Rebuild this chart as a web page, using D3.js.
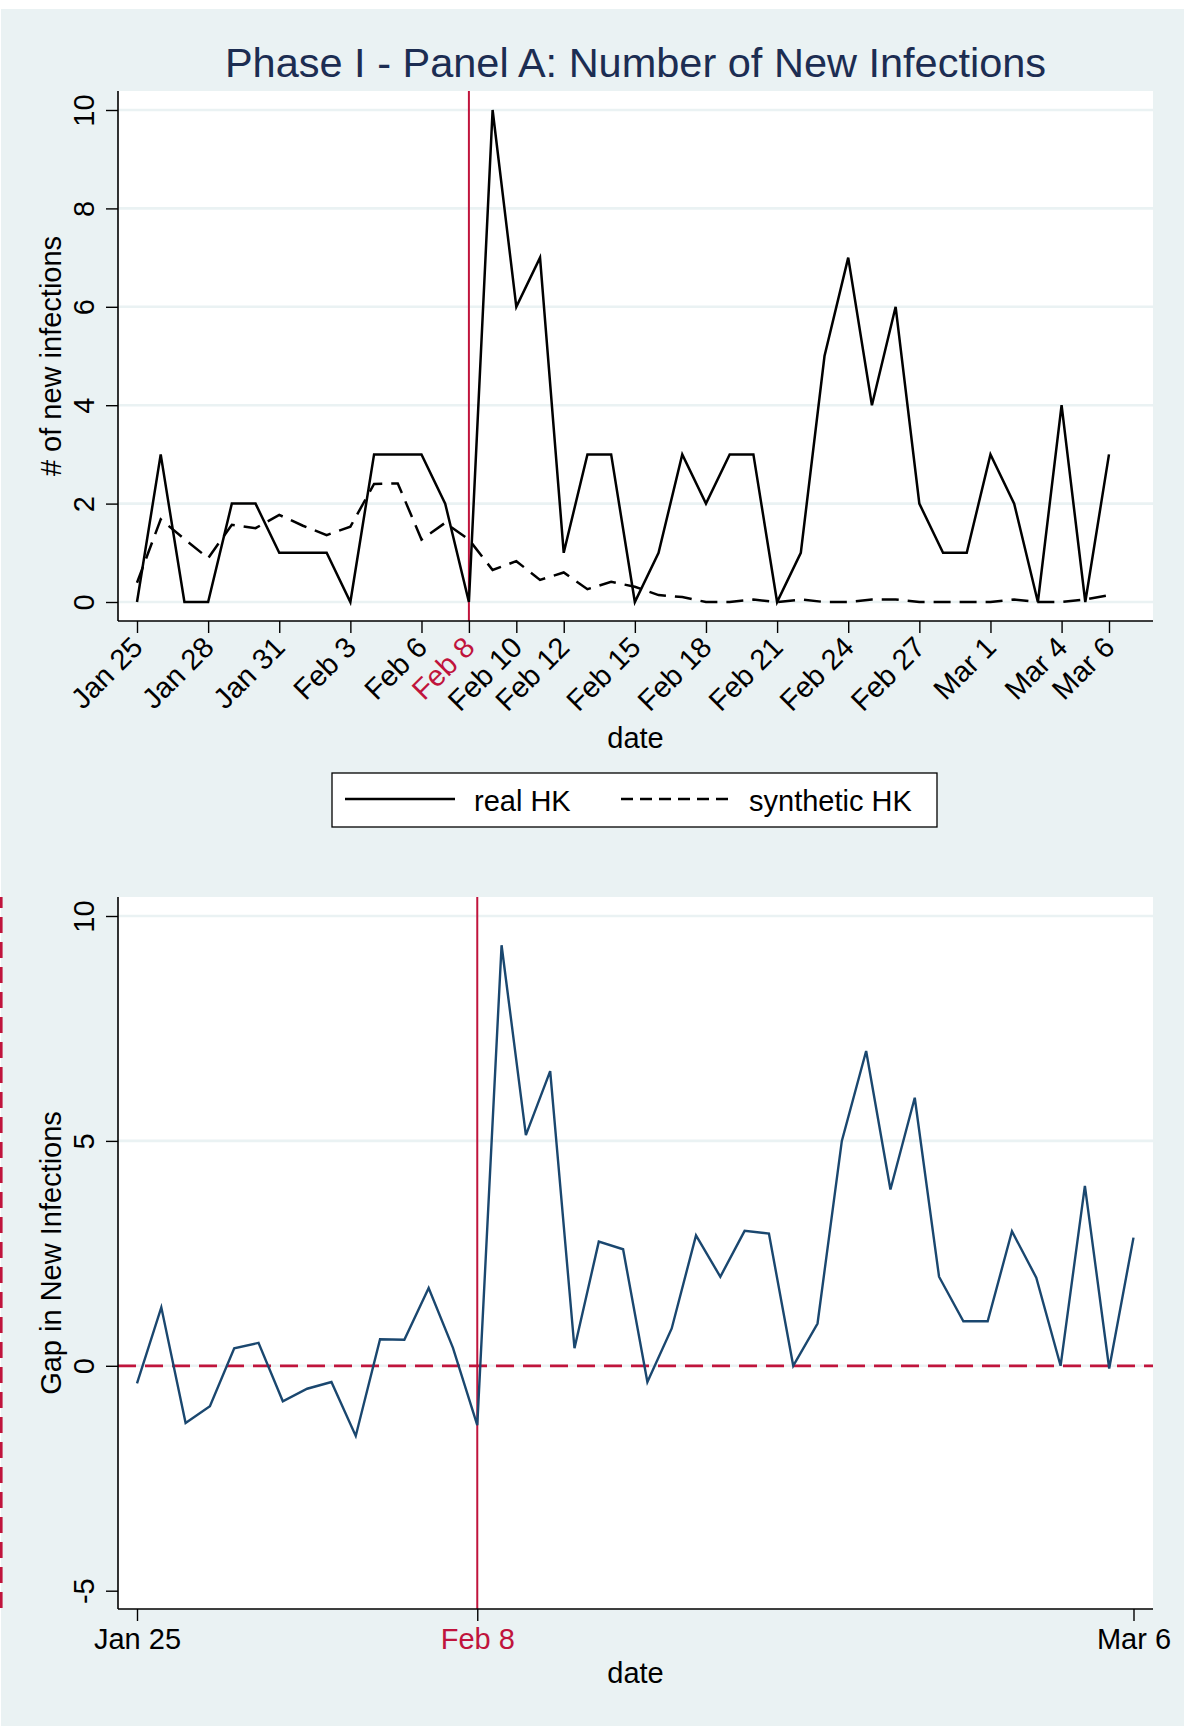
<!DOCTYPE html>
<html>
<head>
<meta charset="utf-8">
<script src="https://cdn.jsdelivr.net/npm/d3@7"></script>
<style>
  html, body { margin: 0; padding: 0; background: #fff; }
  svg { display: block; }
  text { font-family: "Liberation Sans", Arial, Helvetica, sans-serif; }
</style>
</head>
<body>
<svg id="chart" width="1184" height="1726"></svg>
<script>
// daily observations, Jan 25 - Mar 6 2020
var dates = [
  "2020-01-25", "2020-01-26", "2020-01-27", "2020-01-28", "2020-01-29", "2020-01-30", "2020-01-31",
  "2020-02-01", "2020-02-02", "2020-02-03", "2020-02-04", "2020-02-05", "2020-02-06", "2020-02-07",
  "2020-02-08", "2020-02-09", "2020-02-10", "2020-02-11", "2020-02-12", "2020-02-13", "2020-02-14",
  "2020-02-15", "2020-02-16", "2020-02-17", "2020-02-18", "2020-02-19", "2020-02-20", "2020-02-21",
  "2020-02-22", "2020-02-23", "2020-02-24", "2020-02-25", "2020-02-26", "2020-02-27", "2020-02-28",
  "2020-02-29", "2020-03-01", "2020-03-02", "2020-03-03", "2020-03-04", "2020-03-05", "2020-03-06"
];

var realHK = [
  0, 3, 0, 0, 2, 2, 1,
  1, 1, 0, 3, 3, 3, 2,
  0, 10, 6, 7, 1, 3, 3,
  0, 1, 3, 2, 3, 3, 0,
  1, 5, 7, 4, 6, 2, 1,
  1, 3, 2, 0, 4, 0, 3
];

var syntheticHK = [
  0.39, 1.68, 1.28, 0.89, 1.57, 1.5, 1.77,
  1.55, 1.36, 1.53, 2.4, 2.41, 1.27, 1.61,
  1.27, 0.65, 0.83, 0.45, 0.6, 0.26, 0.41,
  0.31, 0.14, 0.1, 0, 0, 0.05, 0,
  0.05, 0, 0, 0.05, 0.05, 0, 0,
  0, 0, 0.05, 0, 0, 0.05, 0.14
];

var gap = [
  -0.39, 1.3, -1.27, -0.9, 0.39, 0.51, -0.79,
  -0.51, -0.36, -1.56, 0.59, 0.58, 1.73, 0.4,
  -1.32, 9.35, 5.13, 6.55, 0.39, 2.76, 2.59,
  -0.36, 0.83, 2.9, 1.98, 3.0, 2.94, 0,
  0.94, 5.0, 7.0, 3.92, 5.96, 1.98, 0.99,
  0.99, 2.99, 1.96, 0, 4.0, -0.06, 2.85
];

var topTicks = [
  "2020-01-25", "2020-01-28", "2020-01-31", "2020-02-03", "2020-02-06", "2020-02-08",
  "2020-02-10", "2020-02-12", "2020-02-15", "2020-02-18", "2020-02-21", "2020-02-24",
  "2020-02-27", "2020-03-01", "2020-03-04", "2020-03-06"
];
var bottomTicks = ["2020-01-25", "2020-02-08", "2020-03-06"];
var topYTicks = [0, 2, 4, 6, 8, 10];
var bottomYTicks = [-5, 0, 5, 10];
var bottomGrid = [0, 5, 10];
var treatDate = "2020-02-08";
var seriesNames = ["real HK", "synthetic HK"];

var bg = "#eaf2f3",
    red = "#c0143c",
    navy = "#1a476f",
    titleColor = "#1c2d52";

var parse = d3.utcParse("%Y-%m-%d"),
    fmt = d3.utcFormat("%b %-d");

var svg = d3.select("#chart");

svg.append("rect")
    .attr("x", 1).attr("y", 9)
    .attr("width", 1183).attr("height", 1717)
    .attr("fill", bg);

function panel(opts) {
  var g = svg.append("g");
  var p = opts.plot;

  var x = d3.scaleUtc()
      .domain([parse(dates[0]), parse(dates[dates.length - 1])])
      .range(opts.xRange);
  var y = d3.scaleLinear()
      .domain(opts.yDomain)
      .range(opts.yRange);

  // plot region
  g.append("rect")
      .attr("x", p.left).attr("y", p.top)
      .attr("width", p.right - p.left).attr("height", p.bottom - p.top)
      .attr("fill", "#fff");

  // gridlines
  g.selectAll("line.grid").data(opts.grid)
    .enter().append("line")
      .attr("class", "grid")
      .attr("x1", p.left).attr("x2", p.right)
      .attr("y1", function(d) { return y(d); })
      .attr("y2", function(d) { return y(d); })
      .attr("stroke", bg)
      .attr("stroke-width", 2.6);

  if (opts.zeroLine) {
    g.append("line")
        .attr("x1", p.left).attr("x2", p.right)
        .attr("y1", y(0)).attr("y2", y(0))
        .attr("stroke", red)
        .attr("stroke-width", 2.8)
        .attr("stroke-dasharray", "18,9");
  }

  // treatment date
  g.append("line")
      .attr("x1", x(parse(treatDate))).attr("x2", x(parse(treatDate)))
      .attr("y1", p.top).attr("y2", p.bottom)
      .attr("stroke", red)
      .attr("stroke-width", 2);

  opts.series.forEach(function(s) {
    var line = d3.line()
        .x(function(d, i) { return x(parse(dates[i])); })
        .y(function(d) { return y(d); });
    g.append("path")
        .datum(s.values)
        .attr("d", line)
        .attr("fill", "none")
        .attr("stroke", s.color)
        .attr("stroke-width", s.width)
        .attr("stroke-linejoin", "miter")
        .attr("stroke-dasharray", s.dash || null);
  });

  // y axis (plain hyphen for negatives, as in the original)
  var yAxis = g.append("g")
      .attr("transform", "translate(" + p.left + ",0)")
      .call(d3.axisLeft(y)
          .tickValues(opts.yTicks)
          .tickFormat(function(d) { return String(d); })
          .tickSize(12)
          .tickSizeOuter(0));
  yAxis.select(".domain").remove();
  yAxis.selectAll(".tick line").attr("stroke", "#000").attr("stroke-width", 1.4);
  yAxis.selectAll(".tick text")
      .attr("x", null).attr("dy", null)
      .attr("text-anchor", "middle")
      .attr("transform", "translate(-24,0) rotate(-90)")
      .attr("fill", "#000")
      .style("font-size", "29px")
      .style("font-family", null);

  g.append("line")
      .attr("x1", p.left).attr("x2", p.left)
      .attr("y1", p.top).attr("y2", p.bottom)
      .attr("stroke", "#000").attr("stroke-width", 1.6);

  // x axis
  var xAxis = g.append("g")
      .attr("transform", "translate(0," + p.bottom + ")")
      .call(d3.axisBottom(x)
          .tickValues(opts.xTicks.map(parse))
          .tickFormat(fmt)
          .tickSize(12)
          .tickSizeOuter(0));
  xAxis.select(".domain").remove();
  xAxis.selectAll(".tick line").attr("stroke", "#000").attr("stroke-width", 1.4);
  var labels = xAxis.selectAll(".tick text")
      .attr("fill", function(d) { return fmt(d) === fmt(parse(treatDate)) ? red : "#000"; })
      .style("font-size", "29px")
      .style("font-family", null);
  if (opts.rotate) {
    labels
        .attr("y", null).attr("dy", null)
        .attr("text-anchor", "end")
        .attr("transform", "translate(7,28) rotate(-45)");
  } else {
    labels
        .attr("y", null).attr("dy", null)
        .attr("text-anchor", "middle")
        .attr("transform", "translate(0,40)");
  }

  g.append("line")
      .attr("x1", p.left).attr("x2", p.right)
      .attr("y1", p.bottom).attr("y2", p.bottom)
      .attr("stroke", "#000").attr("stroke-width", 1.6);

  // axis titles
  g.append("text")
      .attr("transform", "translate(61," + (p.top + p.bottom) / 2 + ") rotate(-90)")
      .attr("text-anchor", "middle")
      .style("font-size", "29px")
      .text(opts.yTitle);

  g.append("text")
      .attr("x", (p.left + p.right) / 2)
      .attr("y", opts.xTitleY)
      .attr("text-anchor", "middle")
      .style("font-size", "29px")
      .text("date");

  return g;
}

// Panel A
panel({
  plot: {left: 118, right: 1153, top: 91, bottom: 621},
  xRange: [137, 1109],
  yDomain: [0, 10],
  yRange: [602, 110],
  grid: topYTicks,
  yTicks: topYTicks,
  xTicks: topTicks,
  rotate: true,
  yTitle: "# of new infections",
  xTitleY: 748,
  series: [
    {values: realHK, color: "#000", width: 2.5},
    {values: syntheticHK, color: "#000", width: 2.5, dash: "17,9"}
  ]
});

svg.append("text")
    .attr("x", 635.5)
    .attr("y", 77)
    .attr("text-anchor", "middle")
    .attr("fill", titleColor)
    .style("font-size", "41.5px")
    .text("Phase I - Panel A: Number of New Infections");

// legend
var legend = svg.append("g");
legend.append("rect")
    .attr("x", 332).attr("y", 773)
    .attr("width", 605).attr("height", 54)
    .attr("fill", "#fff")
    .attr("stroke", "#000")
    .attr("stroke-width", 1.3);

var legendItems = [
  {name: seriesNames[0], x1: 345, x2: 455, tx: 474, dash: null},
  {name: seriesNames[1], x1: 621, x2: 731, tx: 749, dash: "12,7"}
];
legendItems.forEach(function(d) {
  legend.append("line")
      .attr("x1", d.x1).attr("x2", d.x2)
      .attr("y1", 799).attr("y2", 799)
      .attr("stroke", "#000")
      .attr("stroke-width", 2.4)
      .attr("stroke-dasharray", d.dash);
  legend.append("text")
      .attr("x", d.tx).attr("y", 811)
      .style("font-size", "29px")
      .text(d.name);
});

// Panel B
panel({
  plot: {left: 118, right: 1153, top: 897, bottom: 1609},
  xRange: [137, 1133.5],
  yDomain: [-5, 10],
  yRange: [1590.7, 916],
  grid: bottomGrid,
  yTicks: bottomYTicks,
  xTicks: bottomTicks,
  rotate: false,
  zeroLine: true,
  yTitle: "Gap in New Infections",
  xTitleY: 1683,
  series: [
    {values: gap, color: navy, width: 2.4}
  ]
});

// stray dashed line at the left edge of panel B
svg.append("line")
    .attr("x1", 1.3).attr("x2", 1.3)
    .attr("y1", 1608).attr("y2", 897)
    .attr("stroke", red)
    .attr("stroke-width", 2.6)
    .attr("stroke-dasharray", "16,9");
</script>
</body>
</html>
